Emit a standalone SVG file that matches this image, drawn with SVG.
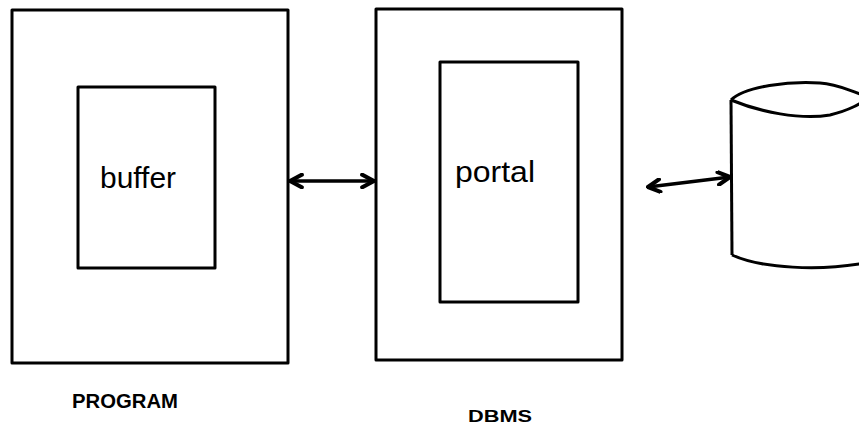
<svg xmlns="http://www.w3.org/2000/svg" width="859" height="436" viewBox="0 0 859 436">
<style>
.box{fill:none;stroke:#000;stroke-width:3;stroke-linejoin:round}
.line{fill:none;stroke:#000;stroke-width:3.5;stroke-linecap:round}
.lbl{font-family:"Liberation Sans",Arial,sans-serif;fill:#000}
</style>
<defs>
<marker id="ah" viewBox="0 0 10 10" refX="9" refY="5" markerWidth="4.5" markerHeight="4.5" orient="auto-start-reverse" markerUnits="strokeWidth">
<path d="M1.5,1 L9,5 L1.5,9" fill="none" stroke="#000" stroke-width="2.6" stroke-linecap="round" stroke-linejoin="round"/>
</marker>
</defs>
<rect width="859" height="436" fill="#fff"/>
<g id="program">
<rect class="box" x="12" y="10" width="276" height="353"/>
<text class="lbl" x="72" y="408" font-size="20" font-weight="bold" textLength="106" lengthAdjust="spacingAndGlyphs">PROGRAM</text>
</g>
<g id="buffer">
<rect class="box" x="78" y="87" width="137" height="181"/>
<text class="lbl" x="100" y="188" font-size="30" textLength="76" lengthAdjust="spacingAndGlyphs">buffer</text>
</g>
<g id="dbms">
<rect class="box" x="376" y="9" width="246" height="351"/>
<text class="lbl" x="468" y="422" font-size="16" font-weight="bold" textLength="64" lengthAdjust="spacingAndGlyphs">DBMS</text>
</g>
<g id="portal">
<rect class="box" x="440" y="62" width="138" height="240"/>
<text class="lbl" x="455" y="182" font-size="30" textLength="80" lengthAdjust="spacingAndGlyphs">portal</text>
</g>
<g id="database">
<path class="box" d="M731,100 C745,86 790,81 820,83 C840,84 850,92 870,97"/>
<path class="box" d="M731,100 C760,112 800,120 830,115 C850,110 860,104 870,97"/>
<path class="box" d="M731,100 L732,255"/>
<path class="box" d="M732,255 C760,268 820,272 870,262"/>
</g>
<g id="connectors">
<line class="line" x1="290" y1="181" x2="374" y2="181" marker-start="url(#ah)" marker-end="url(#ah)"/>
<line class="line" x1="648" y1="187" x2="730" y2="177" marker-start="url(#ah)" marker-end="url(#ah)"/>
</g>
</svg>
